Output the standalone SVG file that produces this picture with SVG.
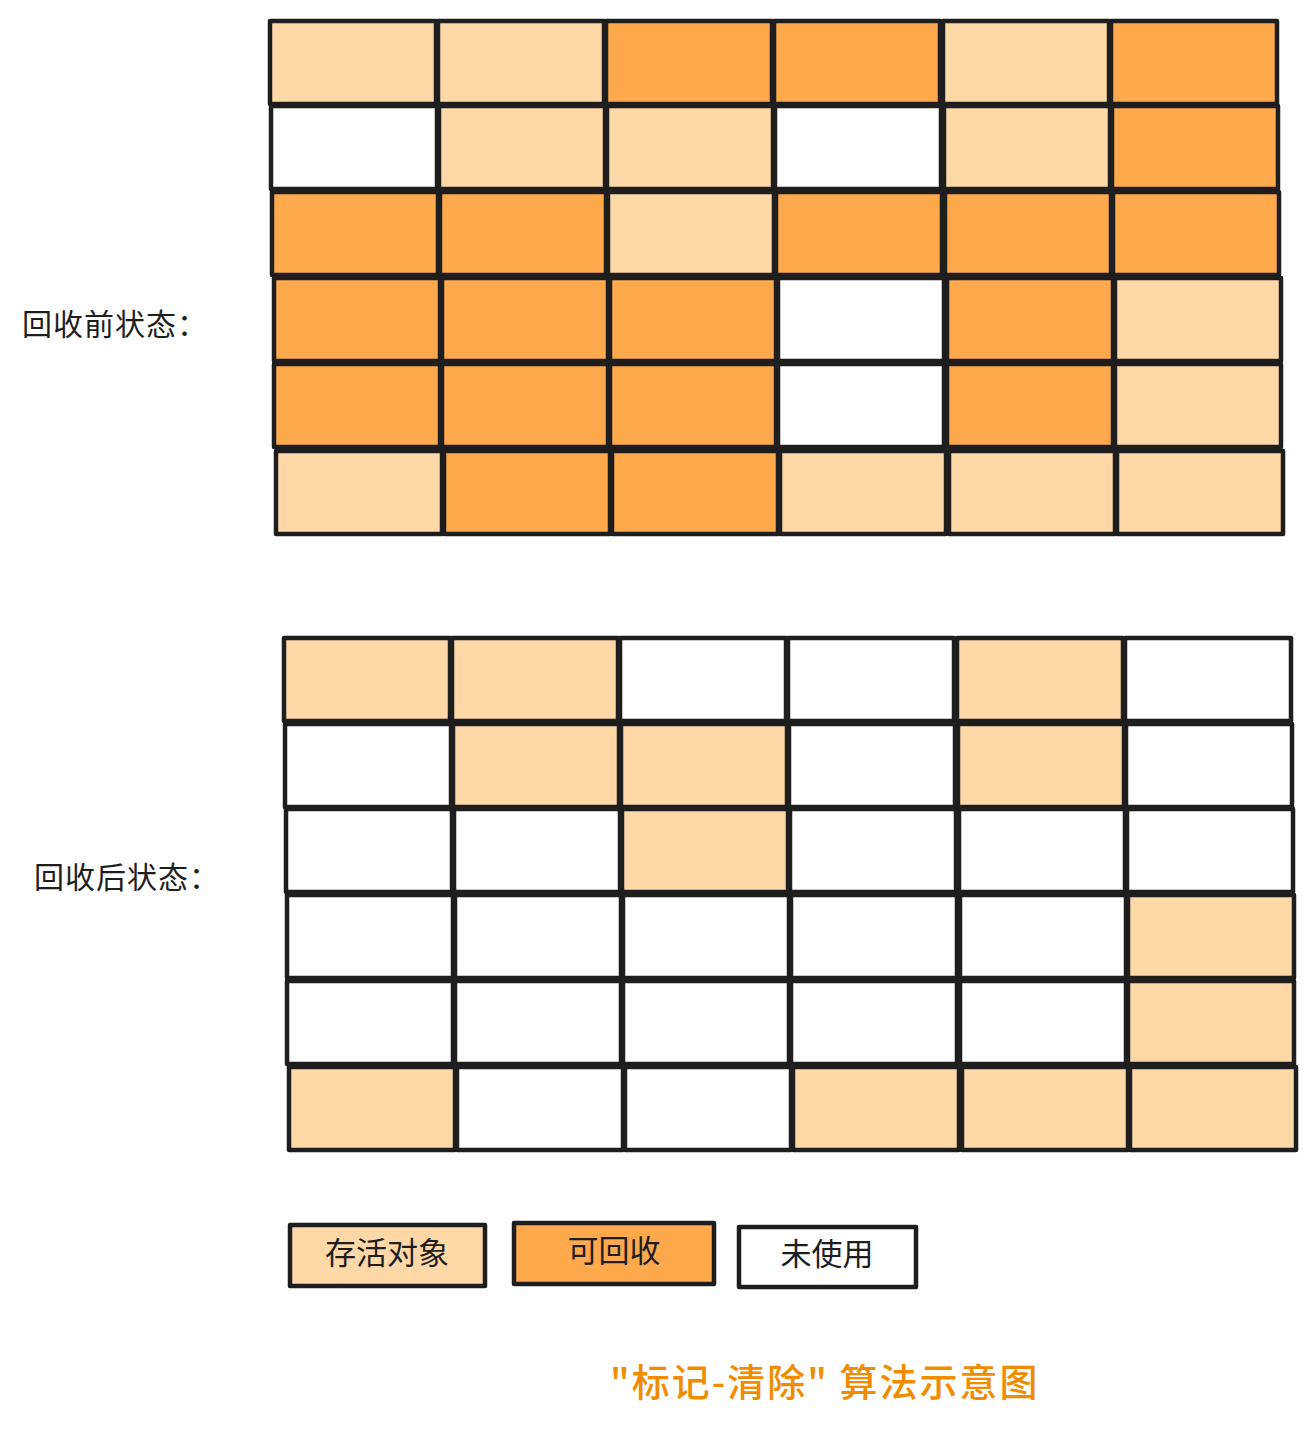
<svg xmlns="http://www.w3.org/2000/svg" width="1315" height="1429" viewBox="0 0 1315 1429">
<style>
.c{stroke:#1e1e1e;stroke-width:4.5;stroke-linejoin:round}
.l{fill:#ffd8a8}.o{fill:#ffa94d}.w{fill:#ffffff}
.t{font-family:"Noto Sans CJK SC","Noto Sans",sans-serif;fill:#1e1e1e}
</style>
<rect width="1315" height="1429" fill="#ffffff"/>
<g id="before">
<g transform="translate(270,21)">
<rect class="c l" x="0" y="0" width="166" height="83"/><rect class="c l" x="168" y="0" width="166" height="83"/><rect class="c o" x="336" y="0" width="166" height="83"/><rect class="c o" x="504" y="0" width="166" height="83"/><rect class="c l" x="673" y="0" width="166" height="83"/><rect class="c o" x="841" y="0" width="166" height="83"/>
</g>
<g transform="translate(271,106)">
<rect class="c w" x="0" y="0" width="166" height="83"/><rect class="c l" x="168" y="0" width="166" height="83"/><rect class="c l" x="336" y="0" width="166" height="83"/><rect class="c w" x="504" y="0" width="166" height="83"/><rect class="c l" x="673" y="0" width="166" height="83"/><rect class="c o" x="841" y="0" width="166" height="83"/>
</g>
<g transform="translate(272,192)">
<rect class="c o" x="0" y="0" width="166" height="83"/><rect class="c o" x="168" y="0" width="166" height="83"/><rect class="c l" x="336" y="0" width="166" height="83"/><rect class="c o" x="504" y="0" width="166" height="83"/><rect class="c o" x="673" y="0" width="166" height="83"/><rect class="c o" x="841" y="0" width="166" height="83"/>
</g>
<g transform="translate(274,278)">
<rect class="c o" x="0" y="0" width="166" height="83"/><rect class="c o" x="168" y="0" width="166" height="83"/><rect class="c o" x="336" y="0" width="166" height="83"/><rect class="c w" x="504" y="0" width="166" height="83"/><rect class="c o" x="673" y="0" width="166" height="83"/><rect class="c l" x="841" y="0" width="166" height="83"/>
</g>
<g transform="translate(274,364)">
<rect class="c o" x="0" y="0" width="166" height="83"/><rect class="c o" x="168" y="0" width="166" height="83"/><rect class="c o" x="336" y="0" width="166" height="83"/><rect class="c w" x="504" y="0" width="166" height="83"/><rect class="c o" x="673" y="0" width="166" height="83"/><rect class="c l" x="841" y="0" width="166" height="83"/>
</g>
<g transform="translate(276,451)">
<rect class="c l" x="0" y="0" width="166" height="83"/><rect class="c o" x="168" y="0" width="166" height="83"/><rect class="c o" x="336" y="0" width="166" height="83"/><rect class="c l" x="504" y="0" width="166" height="83"/><rect class="c l" x="673" y="0" width="166" height="83"/><rect class="c l" x="841" y="0" width="166" height="83"/>
</g>
</g>
<g id="after">
<g transform="translate(284,638)">
<rect class="c l" x="0" y="0" width="166" height="83"/><rect class="c l" x="168" y="0" width="166" height="83"/><rect class="c w" x="336" y="0" width="166" height="83"/><rect class="c w" x="504" y="0" width="166" height="83"/><rect class="c l" x="673" y="0" width="166" height="83"/><rect class="c w" x="841" y="0" width="166" height="83"/>
</g>
<g transform="translate(285,724)">
<rect class="c w" x="0" y="0" width="166" height="83"/><rect class="c l" x="168" y="0" width="166" height="83"/><rect class="c l" x="336" y="0" width="166" height="83"/><rect class="c w" x="504" y="0" width="166" height="83"/><rect class="c l" x="673" y="0" width="166" height="83"/><rect class="c w" x="841" y="0" width="166" height="83"/>
</g>
<g transform="translate(286,809)">
<rect class="c w" x="0" y="0" width="166" height="83"/><rect class="c w" x="168" y="0" width="166" height="83"/><rect class="c l" x="336" y="0" width="166" height="83"/><rect class="c w" x="504" y="0" width="166" height="83"/><rect class="c w" x="673" y="0" width="166" height="83"/><rect class="c w" x="841" y="0" width="166" height="83"/>
</g>
<g transform="translate(287,895)">
<rect class="c w" x="0" y="0" width="166" height="83"/><rect class="c w" x="168" y="0" width="166" height="83"/><rect class="c w" x="336" y="0" width="166" height="83"/><rect class="c w" x="504" y="0" width="166" height="83"/><rect class="c w" x="673" y="0" width="166" height="83"/><rect class="c l" x="841" y="0" width="166" height="83"/>
</g>
<g transform="translate(287,981)">
<rect class="c w" x="0" y="0" width="166" height="83"/><rect class="c w" x="168" y="0" width="166" height="83"/><rect class="c w" x="336" y="0" width="166" height="83"/><rect class="c w" x="504" y="0" width="166" height="83"/><rect class="c w" x="673" y="0" width="166" height="83"/><rect class="c l" x="841" y="0" width="166" height="83"/>
</g>
<g transform="translate(289,1067)">
<rect class="c l" x="0" y="0" width="166" height="83"/><rect class="c w" x="168" y="0" width="166" height="83"/><rect class="c w" x="336" y="0" width="166" height="83"/><rect class="c l" x="504" y="0" width="166" height="83"/><rect class="c l" x="673" y="0" width="166" height="83"/><rect class="c l" x="841" y="0" width="166" height="83"/>
</g>
</g>
<g id="label-before"><text class="t" x="22" y="335" font-size="30" letter-spacing="1">回收前状态：</text></g>
<g id="label-after"><text class="t" x="34" y="888" font-size="30" letter-spacing="1">回收后状态：</text></g>
<g id="legend-live"><rect class="c l" x="290" y="1225" width="195" height="61"/><text class="t" x="387" y="1264" font-size="31" text-anchor="middle">存活对象</text></g>
<g id="legend-reclaim"><rect class="c o" x="514" y="1223" width="200" height="61"/><text class="t" x="614" y="1262" font-size="31" text-anchor="middle">可回收</text></g>
<g id="legend-unused"><rect class="c w" x="739" y="1227" width="177" height="60"/><text class="t" x="827" y="1265" font-size="31" text-anchor="middle">未使用</text></g>
<g id="title"><text x="610" y="1396" font-size="38" letter-spacing="2" font-weight="500" font-family="&quot;Noto Sans CJK SC&quot;,&quot;Noto Sans&quot;,sans-serif" fill="#f08c00">"标记-清除"  算法示意图</text></g>
</svg>
